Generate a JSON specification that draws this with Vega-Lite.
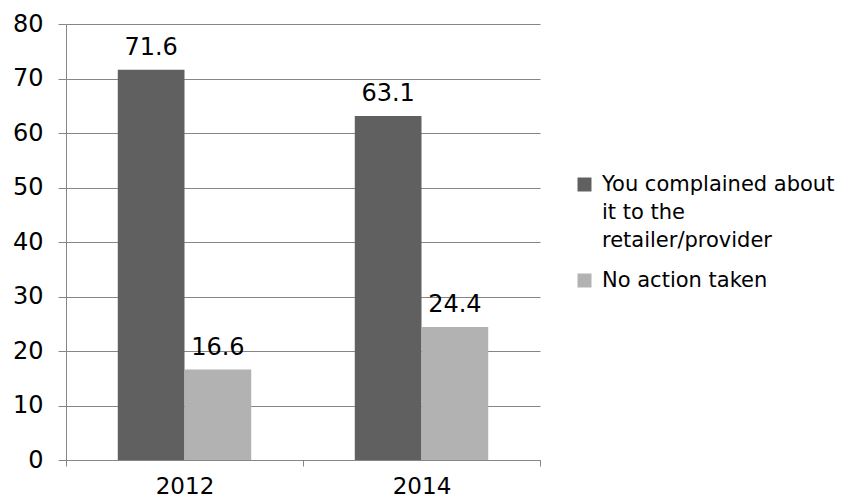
{
  "$schema": "https://vega.github.io/schema/vega-lite/v6.json",
  "autosize": {"type": "none"},
  "padding": {"left": 66, "top": 24, "right": 320, "bottom": 40},
  "width": 474,
  "height": 436,
  "background": "white",
  "config": {
    "font": "DejaVu Sans",
    "view": {"stroke": null}
  },
  "data": {
    "values": [
      {"year": "2012", "series": "You complained about it to the retailer/provider", "value": 71.6},
      {"year": "2012", "series": "No action taken", "value": 16.6},
      {"year": "2014", "series": "You complained about it to the retailer/provider", "value": 63.1},
      {"year": "2014", "series": "No action taken", "value": 24.4}
    ]
  },
  "encoding": {
    "x": {
      "field": "year", "type": "nominal",
      "scale": {"paddingInner": 0, "paddingOuter": 0},
      "axis": {
        "title": null, "labelAngle": 0, "labelFontSize": 23, "labelColor": "#000000",
        "domainColor": "#868686", "tickColor": "#868686", "tickBand": "extent",
        "tickSize": 6, "labelPadding": 9
      }
    },
    "xOffset": {
      "field": "series", "type": "nominal",
      "sort": ["You complained about it to the retailer/provider", "No action taken"],
      "scale": {"paddingInner": 0, "paddingOuter": 0.776}
    },
    "y": {
      "field": "value", "type": "quantitative",
      "scale": {"domain": [0, 80]},
      "axis": {
        "title": null, "values": [0,10,20,30,40,50,60,70,80], "labelOverlap": false,
        "labelFontSize": 24, "labelColor": "#000000",
        "domainColor": "#868686", "tickColor": "#868686", "gridColor": "#868686",
        "tickSize": 8, "labelPadding": 15
      }
    }
  },
  "layer": [
    {
      "mark": {"type": "bar"},
      "encoding": {
        "color": {
          "field": "series", "type": "nominal",
          "sort": ["You complained about it to the retailer/provider", "No action taken"],
          "scale": {"range": ["#606060", "#b2b2b2"]},
          "legend": {
            "title": null, "orient": "none", "legendX": 508, "legendY": 150,
            "symbolType": "square", "symbolSize": 196, "symbolStrokeWidth": 0,
            "labelFontSize": 21, "labelColor": "#000000", "labelLimit": 400,
            "rowPadding": 18, "symbolOffset": 0, "labelOffset": 7,
            "labelExpr": "datum.label == 'No action taken' ? datum.label : ['You complained about', 'it to the', 'retailer/provider']",
            "encode": {"labels": {"update": {"lineHeight": {"value": 28}}}}
          }
        }
      }
    },
    {
      "mark": {"type": "text", "baseline": "alphabetic", "dy": -15, "fontSize": 24, "color": "#000000"},
      "encoding": {
        "text": {"field": "value", "type": "quantitative", "format": ".1f"}
      }
    }
  ]
}
